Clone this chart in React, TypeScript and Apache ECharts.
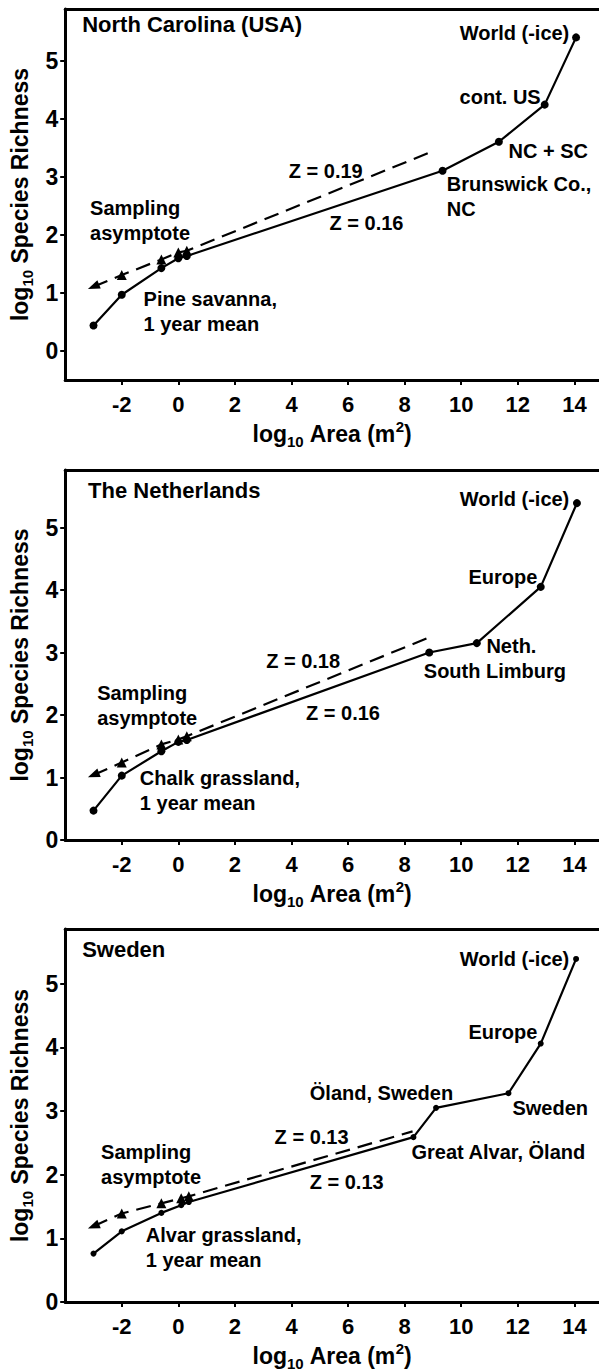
import React, { useEffect, useRef } from "react";
import * as echarts from "echarts";

// ---------- data ----------
const xTickValues = [-2, 0, 2, 4, 6, 8, 10, 12, 14];
const yTickValues = [0, 1, 2, 3, 4, 5];

// North Carolina (USA)
const ncCurveX = [-3, -2, -0.6, 0, 0.3, 9.34, 11.33, 12.95, 14.06];
const ncCurveY = [0.44, 0.97, 1.43, 1.6, 1.64, 3.11, 3.61, 4.25, 5.41];
const ncAsymX = [-3, -2, -0.6, 0, 0.3, 8.91];
const ncAsymY = [1.11, 1.31, 1.58, 1.7, 1.73, 3.43];

// The Netherlands
const nlCurveX = [-3, -2, -0.6, 0, 0.3, 8.87, 10.55, 12.81, 14.09];
const nlCurveY = [0.47, 1.03, 1.42, 1.57, 1.6, 3.0, 3.15, 4.05, 5.39];
const nlAsymX = [-3, -2, -0.6, 0, 0.3, 8.91];
const nlAsymY = [1.04, 1.24, 1.53, 1.61, 1.66, 3.25];

// Sweden
const seCurveX = [-3, -2, -0.6, 0.1, 0.37, 8.31, 9.11, 11.67, 12.81, 14.06];
const seCurveY = [0.76, 1.11, 1.4, 1.52, 1.57, 2.59, 3.05, 3.28, 4.06, 5.39];
const seAsymX = [-3, -2, -0.6, 0.1, 0.37, 8.28];
const seAsymY = [1.19, 1.39, 1.55, 1.63, 1.66, 2.68];

// panel titles: [x, y, text]
const ncTitle: [number, number, string] = [-3.4, 5.63, "North Carolina (USA)"];
const nlTitle: [number, number, string] = [-3.19, 5.6, "The Netherlands"];
const seTitle: [number, number, string] = [-3.4, 5.54, "Sweden"];

// annotation texts: [x, y, text, align]
const ncNotes: [number, number, string, string][] = [
  [13.82, 5.49, "World (-ice)", "right"],
  [12.81, 4.39, "cont. US", "right"],
  [11.67, 3.45, "NC + SC", "left"],
  [5.21, 3.11, "Z = 0.19", "center"],
  [9.49, 2.67, "Brunswick Co.,\nNC", "left"],
  [-3.12, 2.25, "Sampling\nasymptote", "left"],
  [6.65, 2.21, "Z = 0.16", "center"],
  [-1.23, 0.69, "Pine savanna,\n1 year mean", "left"],
];
const nlNotes: [number, number, string, string][] = [
  [13.82, 5.45, "World (-ice)", "right"],
  [12.69, 4.21, "Europe", "right"],
  [10.89, 3.11, "Neth.", "left"],
  [11.19, 2.7, "South Limburg", "center"],
  [4.41, 2.87, "Z = 0.18", "center"],
  [-2.87, 2.16, "Sampling\nasymptote", "left"],
  [5.82, 2.04, "Z = 0.16", "center"],
  [-1.36, 0.8, "Chalk grassland,\n1 year mean", "left"],
];
const seNotes: [number, number, string, string][] = [
  [13.82, 5.39, "World (-ice)", "right"],
  [12.69, 4.24, "Europe", "right"],
  [7.18, 3.28, "Öland, Sweden", "center"],
  [11.81, 3.05, "Sweden", "left"],
  [4.71, 2.59, "Z = 0.13", "center"],
  [8.24, 2.35, "Great Alvar, Öland", "left"],
  [5.95, 1.89, "Z = 0.13", "center"],
  [-2.73, 2.16, "Sampling\nasymptote", "left"],
  [-1.15, 0.85, "Alvar grassland,\n1 year mean", "left"],
];

// ---------- styling ----------
const FONT = "'Liberation Sans', Arial, Helvetica, sans-serif";
const BLACK = "#000";

const panels = [
  { top: 9, height: 371, yMin: -0.5, yMax: 5.9, cx: ncCurveX, cy: ncCurveY, ax: ncAsymX, ay: ncAsymY, title: ncTitle, notes: ncNotes, dot: 8 },
  { top: 470, height: 370, yMin: 0, yMax: 5.92, cx: nlCurveX, cy: nlCurveY, ax: nlAsymX, ay: nlAsymY, title: nlTitle, notes: nlNotes, dot: 8 },
  { top: 929, height: 373, yMin: 0, yMax: 5.86, cx: seCurveX, cy: seCurveY, ax: seAsymX, ay: seAsymY, title: seTitle, notes: seNotes, dot: 6 },
];

function buildOption() {
  const grid: any[] = [];
  const xAxis: any[] = [];
  const yAxis: any[] = [];
  const series: any[] = [];
  panels.forEach((p, i) => {
    grid.push({ left: 63, right: 0, top: p.top, height: p.height, containLabel: false });
    xAxis.push({
      type: "value",
      gridIndex: i,
      min: -4,
      max: 14.87,
      position: "bottom",
      splitLine: { show: false },
      axisLine: { show: true, onZero: false, lineStyle: { color: BLACK, width: 3 } },
      axisTick: { show: true, length: 5, customValues: xTickValues, lineStyle: { color: BLACK, width: 2 } },
      axisLabel: {
        show: true,
        customValues: xTickValues,
        margin: 13,
        color: BLACK,
        fontFamily: FONT,
        fontWeight: "bold",
        fontSize: 22,
      },
      name: "{n|log}{s|10}{n| Area (m}{p|2}{n|)}",
      nameLocation: "middle",
      nameGap: 39,
      nameTextStyle: {
        rich: {
          n: { fontFamily: FONT, fontWeight: "bold", fontSize: 23, color: BLACK, lineHeight: 30 },
          s: { fontFamily: FONT, fontWeight: "bold", fontSize: 15, color: BLACK, lineHeight: 15, verticalAlign: "bottom" },
          p: { fontFamily: FONT, fontWeight: "bold", fontSize: 15, color: BLACK, lineHeight: 15, verticalAlign: "top" },
        },
      },
    });
    xAxis.push({
      type: "value",
      gridIndex: i,
      min: -4,
      max: 14.87,
      position: "top",
      splitLine: { show: false },
      axisLine: { show: true, onZero: false, lineStyle: { color: BLACK, width: 3 } },
      axisTick: { show: false },
      axisLabel: { show: false },
    });
    yAxis.push({
      type: "value",
      gridIndex: i,
      min: p.yMin,
      max: p.yMax,
      splitLine: { show: false },
      axisLine: { show: true, onZero: false, lineStyle: { color: BLACK, width: 3 } },
      axisTick: { show: true, length: 5, customValues: yTickValues, lineStyle: { color: BLACK, width: 2 } },
      axisLabel: {
        show: true,
        customValues: yTickValues,
        margin: 7,
        color: BLACK,
        fontFamily: FONT,
        fontWeight: "bold",
        fontSize: 23,
      },
      name: "{n|log}{s|10}{n| Species Richness}",
      nameLocation: "middle",
      nameRotate: 90,
      nameGap: 30,
      nameTextStyle: {
        rich: {
          n: { fontFamily: FONT, fontWeight: "bold", fontSize: 23, color: BLACK, lineHeight: 30 },
          s: { fontFamily: FONT, fontWeight: "bold", fontSize: 15, color: BLACK, lineHeight: 15, verticalAlign: "bottom" },
        },
      },
    });
    const xi = i * 2;
    // solid species-area curve
    series.push({
      type: "line",
      xAxisIndex: xi,
      yAxisIndex: i,
      data: p.cx.map((x, k) => [x, p.cy[k]]),
      symbol: "circle",
      symbolSize: p.dot,
      showSymbol: true,
      itemStyle: { color: BLACK, opacity: 1 },
      lineStyle: { color: BLACK, width: 2.2 },
      z: 3,
    });
    // dashed sampling asymptote
    const n = p.ax.length;
    series.push({
      type: "line",
      xAxisIndex: xi,
      yAxisIndex: i,
      data: p.ax.map((x, k) => {
        const item: any = { value: [x, p.ay[k]] };
        if (k === 0) {
          item.symbolRotate = 112;
          item.symbolSize = [9, 12];
        }
        if (k === n - 1) item.symbol = "none";
        return item;
      }),
      symbol: "triangle",
      symbolSize: 10,
      showSymbol: true,
      itemStyle: { color: BLACK, opacity: 1 },
      lineStyle: { color: BLACK, width: 2.2, type: [15, 8] },
      z: 2,
    });
    // annotations and panel title
    const notes = p.notes.map((t) => ({
      value: [t[0], t[1]],
      name: t[2],
      label: { align: t[3] },
    }));
    notes.push({
      value: [p.title[0], p.title[1]],
      name: p.title[2],
      label: { align: "left", fontSize: 22 } as any,
    });
    series.push({
      type: "scatter",
      xAxisIndex: xi,
      yAxisIndex: i,
      symbolSize: 0,
      silent: true,
      itemStyle: { color: BLACK, opacity: 1 },
      data: notes,
      label: {
        show: true,
        position: "inside",
        formatter: (d: any) => d.name,
        color: BLACK,
        opacity: 1,
        textBorderWidth: 0,
        fontFamily: FONT,
        fontWeight: "bold",
        fontSize: 20,
        lineHeight: 25,
        verticalAlign: "middle",
      },
      z: 5,
    });
  });
  return { animation: false, backgroundColor: "#fff", grid, xAxis, yAxis, series };
}

export default function App() {
  const ref = useRef<HTMLDivElement>(null);
  useEffect(() => {
    if (!ref.current) return;
    const chart = echarts.init(ref.current, undefined, { renderer: "svg" });
    chart.setOption(buildOption() as any);
    return () => chart.dispose();
  }, []);
  return (
    <div
      ref={ref}
      style={{ position: "absolute", left: 0, top: 0, width: 599, height: 1372, background: "#fff" }}
    />
  );
}
